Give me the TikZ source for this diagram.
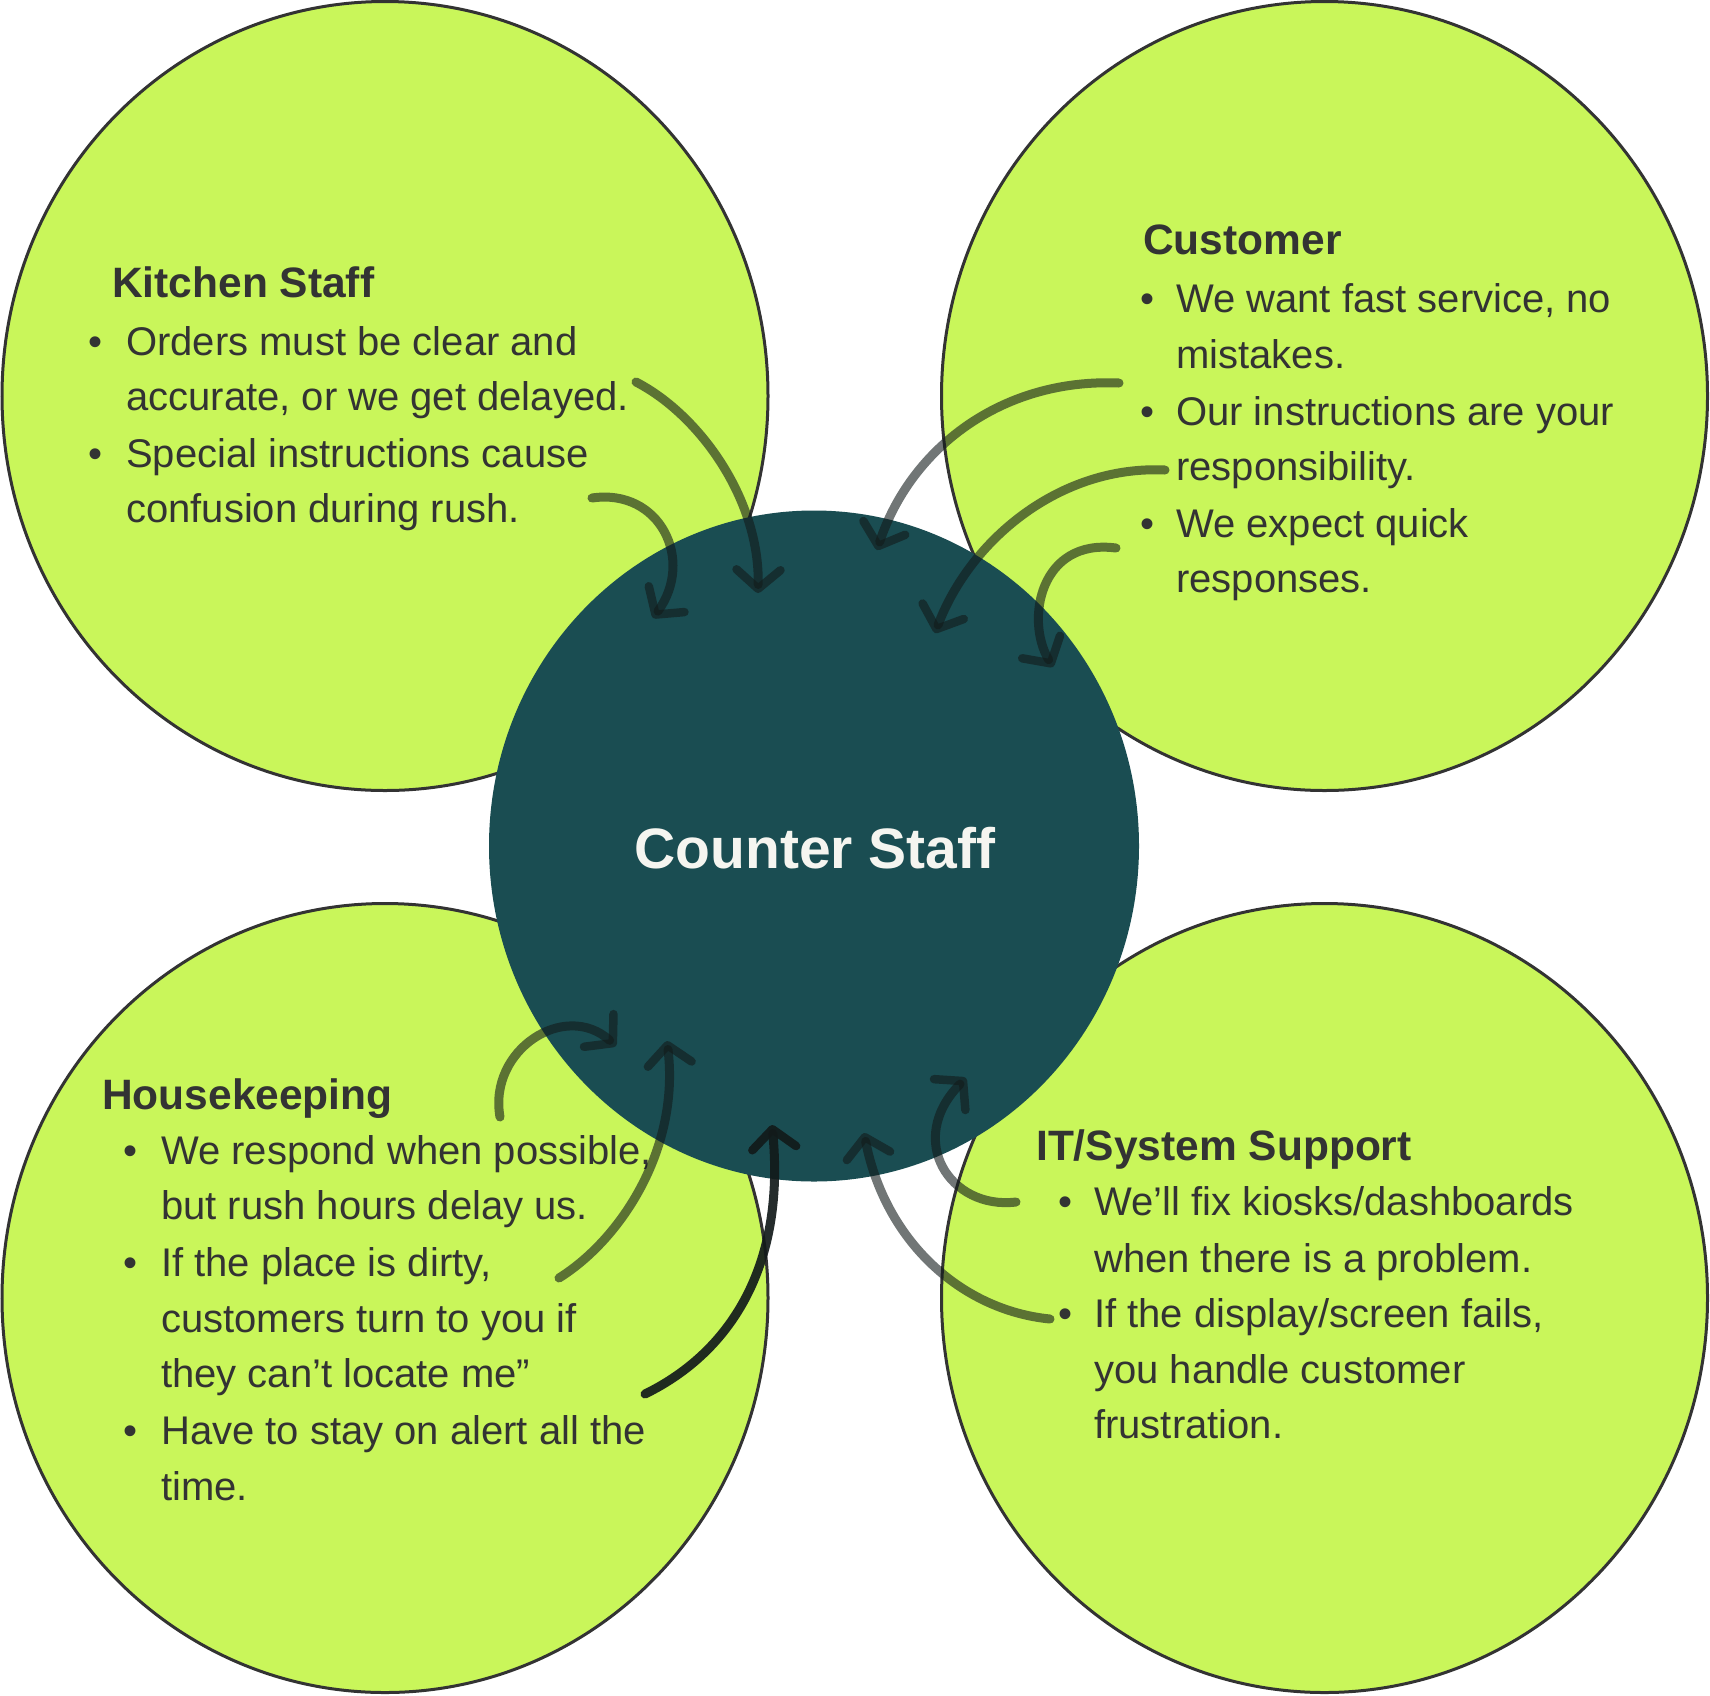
\documentclass[tikz,border=0pt]{standalone}
\usepackage{fontspec}
\setmainfont{Liberation Sans}
\usetikzlibrary{arrows.meta,shapes.geometric}
\definecolor{limeF}{HTML}{C9F65A}
\definecolor{tealF}{HTML}{1A4D52}
\definecolor{ink}{HTML}{333333}
\definecolor{arrowc}{HTML}{121A1A}
\definecolor{whiteF}{HTML}{F5F5F0}
\newcommand\mytl[4]{\node[body] (#1) at (#2,#3) {#4};}
\newcommand\mybul[3]{\node[bul] (#1) at (#2,#3) {•};}
\begin{document}
\begin{tikzpicture}[x=1pt,y=-1pt,
  bubble/.style={ellipse, draw=ink, line width=3pt, fill=limeF, inner sep=0pt, minimum width=766pt, minimum height=789pt},
  hub/.style={ellipse, fill=tealF, inner sep=0pt, minimum width=650pt, minimum height=671pt},
  body/.style={font=\fontsize{40}{48}\selectfont, text=ink, inner sep=0pt, anchor=base west},
  bul/.style={font=\fontsize{40}{48}\selectfont, text=ink, inner sep=0pt, anchor=base},
  head/.style={font=\fontsize{42.5}{50}\selectfont\bfseries, text=ink, inner sep=0pt, anchor=base west},
  hubtext/.style={font=\fontsize{57}{64}\selectfont\bfseries, text=whiteF, inner sep=0pt, anchor=base},
  arr/.style={draw=arrowc, draw opacity=0.6, line width=9pt, line cap=round,
    -{Straight Barb[length=19pt,width=44pt,line width=8.5pt,round]}},
  arrdark/.style={arr, draw opacity=0.92}
]
\useasboundingbox (0,0) rectangle (1710,1695);
% bubbles
\node[bubble] (kitchen) at (385,396) {};
\node[bubble] (customer) at (1324.5,396) {};
\node[bubble] (house) at (385,1298) {};
\node[bubble] (it) at (1324.5,1298) {};
\node[hub] (counter) at (814,846) {};
\node[hubtext] (countertxt) at (815,868) {Counter Staff};
% Kitchen
\node[head] (kitchenh) at (112,297) {Kitchen Staff};
\mybul{kb1}{96}{355}
\mytl{k1}{126}{355}{Orders must be clear and}
\mytl{k2}{126}{410}{accurate, or we get delayed.}
\mybul{kb2}{96}{467}
\mytl{k3}{126}{467}{Special instructions cause}
\mytl{k4}{126}{522}{confusion during rush.}
% Customer
\node[head] (customerh) at (1143,254) {Customer};
\mybul{cb1}{1147}{312}
\mytl{c1}{1176}{312}{We want fast service, no}
\mytl{c2}{1176}{368}{mistakes.}
\mybul{cb2}{1147}{425}
\mytl{c3}{1176}{425}{Our instructions are your}
\mytl{c4}{1176}{480}{responsibility.}
\mybul{cb3}{1147}{537}
\mytl{c5}{1176}{537}{We expect quick}
\mytl{c6}{1176}{592}{responses.}
% Housekeeping
\node[head] (househ) at (102,1109) {Housekeeping};
\mybul{hb1}{131}{1164}
\mytl{h1}{161}{1164}{We respond when possible,}
\mytl{h2}{161}{1219}{but rush hours delay us.}
\mybul{hb2}{131}{1276}
\mytl{h3}{161}{1276}{If the place is dirty,}
\mytl{h4}{161}{1332}{customers turn to you if}
\mytl{h5}{161}{1387}{they can’t locate me”}
\mybul{hb3}{131}{1444}
\mytl{h6}{161}{1444}{Have to stay on alert all the}
\mytl{h7}{161}{1500}{time.}
% IT
\node[head] (ith) at (1036,1160) {IT/System Support};
\mybul{ib1}{1065}{1215}
\mytl{i1}{1094}{1215}{We’ll fix kiosks/dashboards}
\mytl{i2}{1094}{1272}{when there is a problem.}
\mybul{ib2}{1065}{1327}
\mytl{i3}{1094}{1327}{If the display/screen fails,}
\mytl{i4}{1094}{1383}{you handle customer}
\mytl{i5}{1094}{1438}{frustration.}
% arrow end points
\coordinate (s1) at (636,382);  \coordinate (e1) at (758,593);
\coordinate (s2) at (592,498);  \coordinate (e2) at (653,618);
\coordinate (s3) at (1119,383); \coordinate (e3) at (877,550);
\coordinate (s4) at (1165,470); \coordinate (e4) at (935,633);
\coordinate (s5) at (1116,548); \coordinate (e5) at (1053,667);
\coordinate (s6) at (500,1117); \coordinate (e6) at (616,1046);
\coordinate (s7) at (559,1278); \coordinate (e7) at (667,1041);
\coordinate (s8) at (645,1394); \coordinate (e8) at (772,1125);
\coordinate (s9) at (1016,1202); \coordinate (e9) at (966,1078);
\coordinate (s10) at (1050,1319); \coordinate (e10) at (864,1133);
% arrows
\draw[arr] (s1) .. controls (700,415) and (760,500) .. (e1);
\draw[arr] (s2) .. controls (660,488) and (695,560) .. (e2);
\draw[arr] (s3) .. controls (1000,378) and (910,450) .. (e3);
\draw[arr] (s4) .. controls (1060,465) and (970,540) .. (e4);
\draw[arr] (s5) .. controls (1040,538) and (1025,620) .. (e5);
\draw[arr] (s6) .. controls (488,1050) and (565,1000) .. (e6);
\draw[arr] (s7) .. controls (620,1240) and (680,1150) .. (e7);
\draw[arrdark] (s8) .. controls (735,1350) and (785,1260) .. (e8);
\draw[arr] (s9) .. controls (950,1210) and (905,1140) .. (e9);
\draw[arr] (s10) .. controls (960,1310) and (885,1240) .. (e10);
\end{tikzpicture}
\end{document}
